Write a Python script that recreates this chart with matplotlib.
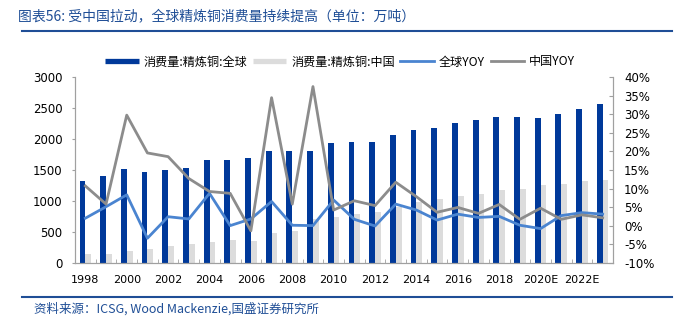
import matplotlib
matplotlib.use("Agg")
import matplotlib.pyplot as plt
from matplotlib.lines import Line2D
from matplotlib.ticker import FixedLocator, FuncFormatter

plt.rcParams['font.family'] = ['DejaVu Sans', 'Noto Sans CJK SC']

years = ['1998', '1999', '2000', '2001', '2002', '2003', '2004', '2005', '2006',
         '2007', '2008', '2009', '2010', '2011', '2012', '2013', '2014', '2015',
         '2016', '2017', '2018', '2019', '2020E', '2021E', '2022E', '2023E']
global_cons = [1327, 1397, 1510, 1462, 1494, 1526, 1661, 1666, 1694, 1801, 1801,
               1801, 1931, 1952, 1952, 2060, 2152, 2184, 2254, 2303, 2357, 2357,
               2346, 2405, 2486, 2562]
china_cons = [140, 140, 189, 221, 270, 302, 334, 361, 356, 485, 515, 700, 734,
              788, 825, 906, 990, 1030, 1079, 1111, 1176, 1197, 1257, 1278, 1316,
              1343]
global_yoy = [2.0, 5.1, 8.3, -3.4, 2.4, 1.8, 8.7, 0.0, 1.8, 6.5, 0.1, 0.0, 6.9,
              1.7, -0.1, 5.8, 4.2, 1.5, 3.1, 2.2, 2.5, 0.1, -0.8, 2.7, 3.5, 3.1]
china_yoy = [10.7, 5.8, 29.8, 19.6, 18.6, 12.7, 9.2, 8.7, -1.4, 34.5, 5.8, 37.5,
             4.2, 6.7, 5.4, 11.7, 7.8, 3.6, 4.9, 3.3, 5.7, 1.7, 4.7, 1.7, 2.9, 2.1]

labels = ['消费量:精炼铜:全球', '消费量:精炼铜:中国', '全球YOY', '中国YOY']
title = '图表56: 受中国拉动，全球精炼铜消费量持续提高（单位：万吨）'
source = '资料来源：ICSG, Wood Mackenzie,国盛证券研究所'

c_blue_bar = '#00399A'
c_gray_bar = '#DCDCDC'
c_blue_line = '#4A84D0'
c_gray_line = '#8C8C8C'
c_head = '#1F4E96'
c_spine = '#A0A0A0'

W, H = 681, 324
fig = plt.figure(figsize=(W / 100, H / 100), dpi=100)
ax = fig.add_axes([75 / W, 1 - 262.7 / H, (613 - 75) / W, (262.7 - 77.3) / H])
ax2 = ax.twinx()

x = list(range(len(years)))
bw = 0.28
ax.bar([i - bw / 2 for i in x], global_cons, width=bw, color=c_blue_bar, zorder=2)
ax.bar([i + bw / 2 for i in x], china_cons, width=bw, color=c_gray_bar, zorder=2)
ax.set_xlim(-0.5, len(years) - 0.5)
ax.set_ylim(0, 3000)
ax.set_yticks(range(0, 3001, 500))

ax2.plot(x, global_yoy, color=c_blue_line, lw=2.0, zorder=3)
ax2.plot(x, china_yoy, color=c_gray_line, lw=2.0, zorder=3)
ax2.set_ylim(-10, 40)
ax2.set_yticks(range(-10, 41, 5))
ax2.yaxis.set_major_formatter(FuncFormatter(lambda v, p: f'{int(v)}%'))

ax.set_xticks(x[::2])
ax.set_xticklabels(years[::2])
ax.xaxis.set_minor_locator(FixedLocator([i + 0.5 for i in x[:-1]]))
ax.tick_params(axis='x', which='major', length=0, pad=9, labelsize=8)
ax.tick_params(axis='x', which='minor', length=3, direction='in', color=c_spine)
ax.tick_params(axis='y', length=2, direction='out', color=c_spine, pad=7, labelsize=8.5)
ax2.tick_params(axis='y', length=3, direction='in', color=c_spine, pad=8, labelsize=8.5)

for a in (ax, ax2):
    a.spines['top'].set_visible(False)
    for s in ('left', 'right', 'bottom'):
        a.spines[s].set_color(c_spine)
        a.spines[s].set_linewidth(0.8)

handles = [Line2D([], [], color=c_blue_bar, lw=3.8, solid_capstyle='butt'),
           Line2D([], [], color=c_gray_bar, lw=3.8, solid_capstyle='butt'),
           Line2D([], [], color=c_blue_line, lw=2.0),
           Line2D([], [], color=c_gray_line, lw=2.0)]
fig.legend(handles, labels, loc='center', bbox_to_anchor=(340 / W, 1 - 62 / H),
           ncol=4, frameon=False, prop={'family': ['Noto Sans CJK SC', 'DejaVu Sans'], 'size': 8.7},
           handlelength=2.8, handletextpad=0.4, columnspacing=0.45, borderaxespad=0)

fig.text(18 / W, 1 - 16 / H, title, color=c_head, fontsize=10, style='italic',
         family=['Noto Sans CJK SC', 'DejaVu Sans'], ha='left', va='center')
fig.text(34 / W, 1 - 309 / H, source, color=c_head, fontsize=9, style='italic',
         family=['Noto Sans CJK SC', 'DejaVu Sans'], ha='left', va='center')
fig.add_artist(Line2D([22 / W, 672 / W], [1 - 31 / H, 1 - 31 / H], color=c_head, lw=1.5))
fig.add_artist(Line2D([22 / W, 672 / W], [1 - 297 / H, 1 - 297 / H], color=c_head, lw=1.5))

fig.savefig('out.png', dpi=100)
